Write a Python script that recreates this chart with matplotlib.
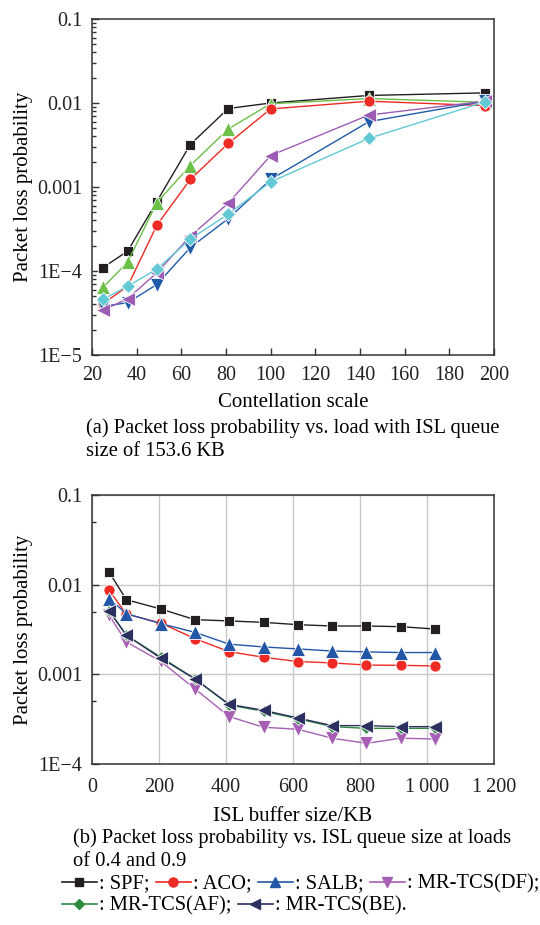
import numpy as np
import matplotlib
matplotlib.use("Agg")
import matplotlib.pyplot as plt
from matplotlib.lines import Line2D
from matplotlib.ticker import FixedLocator, LogLocator, NullFormatter

plt.rcParams['font.family'] = ['Liberation Serif', 'DejaVu Serif']

# ---- data, panel (a) ----
scale = [25, 36, 49, 64, 81, 100, 144, 196]
a_black = [1.1e-4, 1.73e-4, 6.7e-4, 3.2e-3, 8.6e-3, 1.0e-2, 1.23e-2, 1.32e-2]
a_green = [6.4e-5, 1.28e-4, 6.5e-4, 1.8e-3, 4.9e-3, 9.8e-3, 1.13e-2, 1.02e-2]
a_red = [4.1e-5, 6.6e-5, 3.5e-4, 1.23e-3, 3.3e-3, 8.5e-3, 1.05e-2, 9.3e-3]
a_blue = [3.8e-5, 4.2e-5, 6.9e-5, 1.9e-4, 4.2e-4, 1.23e-3, 6.0e-3, 1.05e-2]
a_purple = [3.4e-5, 4.7e-5, 9.5e-5, 2.6e-4, 6.4e-4, 2.37e-3, 7.2e-3, 1.05e-2]
a_cyan = [4.6e-5, 6.6e-5, 1.05e-4, 2.4e-4, 4.75e-4, 1.15e-3, 3.8e-3, 1.03e-2]

# ---- data, panel (b) ----
buf = [51.2, 102.4, 204.8, 307.2, 409.6, 512, 614.4, 716.8, 819.2, 921.6, 1024]
b_spf = [1.38e-2, 6.8e-3, 5.36e-3, 4.07e-3, 3.94e-3, 3.8e-3, 3.58e-3, 3.46e-3, 3.46e-3, 3.4e-3, 3.2e-3]
b_aco = [8.65e-3, 4.7e-3, 3.74e-3, 2.5e-3, 1.79e-3, 1.55e-3, 1.39e-3, 1.34e-3, 1.27e-3, 1.26e-3, 1.24e-3]
b_salb = [7.0e-3, 4.75e-3, 3.68e-3, 2.94e-3, 2.17e-3, 2.02e-3, 1.92e-3, 1.82e-3, 1.78e-3, 1.75e-3, 1.75e-3]
b_df = [4.55e-3, 2.3e-3, 1.4e-3, 6.9e-4, 3.38e-4, 2.57e-4, 2.44e-4, 1.94e-4, 1.7e-4, 1.94e-4, 1.9e-4]
b_af = [5.15e-3, 2.73e-3, 1.56e-3, 8.9e-4, 4.55e-4, 3.87e-4, 3.2e-4, 2.61e-4, 2.5e-4, 2.5e-4, 2.5e-4]
b_be = [5.09e-3, 2.73e-3, 1.52e-3, 8.9e-4, 4.63e-4, 3.97e-4, 3.26e-4, 2.68e-4, 2.68e-4, 2.61e-4, 2.61e-4]

y_ticks_a = [1e-5, 1e-4, 1e-3, 1e-2, 1e-1]
y_labels_a = ['1E\u22125', '1E\u22124', '0.001', '0.01', '0.1']
y_ticks_b = [1e-4, 1e-3, 1e-2, 1e-1]
y_labels_b = ['1E\u22124', '0.001', '0.01', '0.1']
x_ticks_b = [0, 200, 400, 600, 800, 1000, 1200]
x_labels_b = ['0', '200', '400', '600', '800', '1\u2009000', '1\u2009200']

FS = 14.5
W, H = 540, 925
fig = plt.figure(figsize=(W / 100, H / 100), dpi=100)

def style(ax):
    for s in ax.spines.values():
        s.set_linewidth(1.1)
        s.set_color('#333333')
    ax.tick_params(which='both', direction='in', labelsize=FS, colors='#333333',
                   labelcolor='#222222', width=1.0)
    ax.tick_params(which='major', length=5)
    ax.tick_params(which='minor', length=3)
    ax.tick_params(axis='y', which='major', pad=7)
    ax.tick_params(axis='x', which='major', pad=8)

mk = dict(markersize=7.5, markeredgecolor='white', markeredgewidth=0.6, linewidth=1.0)
tri = dict(mk, markersize=9.5)

# panel (a)
ax1 = fig.add_axes([92 / W, 1 - 355 / H, (494 - 92) / W, (355 - 19) / H])
ax1.plot(scale, a_black, color='#231f20', marker='s', **mk)
ax1.plot(scale, a_green, color='#6cbf47', marker='^', **tri)
ax1.plot(scale, a_red, color='#ee2a24', marker='o', **dict(mk, markersize=8))
ax1.plot(scale, a_blue, color='#1f5aa8', marker='v', **tri)
ax1.plot(scale, a_purple, color='#9d5cb3', marker='<', **tri)
ax1.plot(scale, a_cyan, color='#62c8d4', marker='D', **dict(mk, markersize=7))
ax1.set_yscale('log')
ax1.set_xlim(20, 200)
ax1.set_ylim(1e-5, 1e-1)
ax1.set_xticks(range(20, 201, 20))
ax1.set_yticks(y_ticks_a)
ax1.set_yticklabels(y_labels_a)
ax1.yaxis.set_minor_locator(LogLocator(base=10, subs=np.arange(2, 10)))
ax1.yaxis.set_minor_formatter(NullFormatter())
style(ax1)
ax1.set_ylabel('Packet loss probability', fontsize=FS + 0.5, labelpad=3)
ax1.set_xlabel('Contellation scale', fontsize=FS + 0.5, labelpad=6)

CF = 14.8
fig.text(86 / W, 1 - 428 / H, '(a) Packet loss probability vs. load with ISL queue',
         fontsize=CF, ha='left', va='center')
fig.text(86 / W, 1 - 452 / H, 'size of 153.6 KB', fontsize=CF, ha='left', va='center')

# panel (b)
ax2 = fig.add_axes([92 / W, 1 - 764 / H, (494 - 92) / W, (764 - 495) / H])
c_spf, c_aco, c_salb = '#231f20', '#ee2a24', '#2356a6'
c_df, c_af, c_be = '#a65fb5', '#2e8b3e', '#2c3060'
ax2.plot(buf, b_spf, color=c_spf, marker='s', **dict(mk, markersize=7))
ax2.plot(buf, b_aco, color=c_aco, marker='o', **dict(mk, markersize=8))
ax2.plot(buf, b_salb, color=c_salb, marker='^', **tri)
ax2.plot(buf, b_df, color=c_df, marker='v', **tri)
ax2.plot(buf, b_af, color=c_af, marker='D', **dict(mk, markersize=6))
ax2.plot(buf, b_be, color=c_be, marker='<', **tri)
ax2.set_yscale('log')
ax2.set_xlim(0, 1200)
ax2.set_ylim(1e-4, 1e-1)
ax2.set_xticks(x_ticks_b)
ax2.set_xticklabels(x_labels_b)
ax2.set_yticks(y_ticks_b)
ax2.set_yticklabels(y_labels_b)
ax2.yaxis.set_minor_locator(FixedLocator([5e-4, 5e-3, 5e-2]))
ax2.yaxis.set_minor_formatter(NullFormatter())
ax2.grid(True, which='major', color='#c8c8c8', linewidth=1.0)
ax2.set_axisbelow(True)
style(ax2)
ax2.tick_params(axis='x', which='major', length=0, pad=10)
ax2.set_ylabel('Packet loss probability', fontsize=FS + 0.5, labelpad=3)
ax2.set_xlabel('ISL buffer size/KB', fontsize=FS + 0.5, labelpad=7)

fig.text(73 / W, 1 - 838 / H, '(b) Packet loss probability vs. ISL queue size at loads',
         fontsize=CF, ha='left', va='center')
fig.text(73 / W, 1 - 861 / H, 'of 0.4 and 0.9', fontsize=CF, ha='left', va='center')

# legend rows
def key(c, m, ms=6.5):
    return Line2D([], [], color=c, marker=m, markersize=ms, linewidth=1.2,
                  markeredgecolor=c)

row1 = [key(c_spf, 's', 5.5), key(c_aco, 'o'), key(c_salb, '^'), key(c_df, 'v')]
row2 = [key(c_af, 'D', 5), key(c_be, '<')]
lab1 = [': SPF;', ': ACO;', ': SALB;', ': MR-TCS(DF);']
lab2 = [': MR-TCS(AF);', ': MR-TCS(BE).']
legkw = dict(frameon=False, fontsize=14.8, handlelength=1.7, handletextpad=0.1,
             columnspacing=0.3, borderpad=0, borderaxespad=0)
fig.legend(row1, lab1, ncol=4, loc='center left', bbox_to_anchor=(62 / W, 1 - 884 / H), **legkw)
fig.legend(row2, lab2, ncol=2, loc='center left', bbox_to_anchor=(62 / W, 1 - 906 / H), **legkw)

fig.savefig('out.png', dpi=100)
